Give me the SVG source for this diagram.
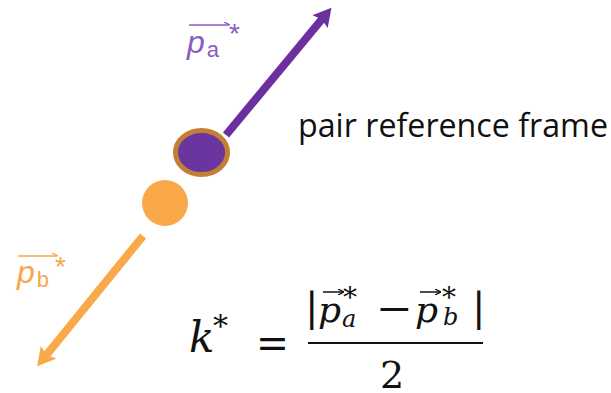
<svg xmlns="http://www.w3.org/2000/svg" width="611" height="393" viewBox="0 0 611 393">
  <style>
    .sans { font-family: "Liberation Sans", Arial, sans-serif; }
    .calib { font-family: "Open Sans", "Liberation Sans", sans-serif; fill: #111; }
    .math { font-family: "DejaVu Serif", "Liberation Serif", serif; fill: #111; }
    .it { font-style: italic; }
    .purpleLbl { fill: #8B5CBF; }
    .orangeLbl { fill: #F7A64A; }
  </style>
  <defs>
    <marker id="headPurple" viewBox="0 -10 18 20" markerUnits="userSpaceOnUse" markerWidth="18" markerHeight="20" refX="4" refY="0" orient="auto">
      <path d="M0,-10 L18,0 L0,10 L3,0 z" fill="#6B2FA0"/>
    </marker>
    <marker id="headOrange" viewBox="0 -10 18 20" markerUnits="userSpaceOnUse" markerWidth="18" markerHeight="20" refX="4" refY="0" orient="auto">
      <path d="M0,-10 L18,0 L0,10 L3,0 z" fill="#F9A84A"/>
    </marker>
    <marker id="vecPurple" viewBox="0 -3 6 6" markerUnits="userSpaceOnUse" markerWidth="6" markerHeight="6" refX="5" refY="0" orient="auto">
      <path d="M0,-3 L6,0" stroke="#8B5CBF" stroke-width="1.3" fill="none"/>
    </marker>
    <marker id="vecOrange" viewBox="0 -3 6 6" markerUnits="userSpaceOnUse" markerWidth="6" markerHeight="6" refX="5" refY="0" orient="auto">
      <path d="M0,-3 L6,0" stroke="#F7A64A" stroke-width="1.3" fill="none"/>
    </marker>
    <marker id="vecBlack" viewBox="0 -3 6 6" markerUnits="userSpaceOnUse" markerWidth="6" markerHeight="6" refX="5" refY="0" orient="auto">
      <path d="M0,-3 L6,0 L0,3" stroke="#111" stroke-width="1.3" fill="none"/>
    </marker>
  </defs>
  <rect width="611" height="393" fill="#ffffff"/>

  <g id="connectors">
    <line x1="226" y1="135" x2="322.5" y2="18.5" stroke="#6B2FA0" stroke-width="8" marker-end="url(#headPurple)"/>
    <line x1="143" y1="236" x2="46" y2="355.5" stroke="#F9A84A" stroke-width="8" marker-end="url(#headOrange)"/>
  </g>

  <g id="particle-a">
    <ellipse cx="201.5" cy="152.5" rx="26" ry="22" fill="#6B35A0" stroke="#C47F35" stroke-width="5"/>
  </g>

  <g id="particle-b">
    <circle cx="165" cy="203" r="23" fill="#F9A84A"/>
  </g>

  <g id="label-pa">
    <line x1="189" y1="25" x2="229" y2="25" stroke="#8B5CBF" stroke-width="1.5" marker-end="url(#vecPurple)"/>
    <text class="sans purpleLbl" x="187" y="53" font-size="32"><tspan class="it">p</tspan><tspan font-size="22" dx="2" dy="4">a</tspan></text>
    <text class="sans purpleLbl" x="229" y="43" font-size="28">*</text>
  </g>

  <g id="label-pb">
    <line x1="18" y1="256" x2="57" y2="256" stroke="#F7A64A" stroke-width="1.5" marker-end="url(#vecOrange)"/>
    <text class="sans orangeLbl" x="17" y="283" font-size="32"><tspan class="it">p</tspan><tspan font-size="22" dx="2" dy="4">b</tspan></text>
    <text class="sans orangeLbl" x="55" y="276" font-size="28">*</text>
  </g>

  <g id="label-frame">
    <text class="calib" x="298" y="137" font-size="32" textLength="310" lengthAdjust="spacingAndGlyphs">pair reference frame</text>
  </g>

  <g id="formula">
    <text class="math it" x="189" y="352" font-size="42">k</text>
    <text class="math" x="213" y="336" font-size="30">*</text>
    <text class="math" x="256" y="358" font-size="42" textLength="33" lengthAdjust="spacingAndGlyphs">=</text>
    <rect x="308" y="342" width="175" height="2" fill="#111"/>
    <text class="math" x="305" y="321" font-size="40">|</text>
    <text class="math it" x="318" y="322" font-size="36">p</text>
    <line x1="323" y1="292" x2="343" y2="292" stroke="#111" stroke-width="1.5" marker-end="url(#vecBlack)"/>
    <text class="math" x="343" y="307" font-size="28">*</text>
    <text class="math it" x="342" y="327" font-size="24">a</text>
    <text class="math" x="376" y="322" font-size="40" textLength="37" lengthAdjust="spacingAndGlyphs">−</text>
    <text class="math it" x="415" y="322" font-size="36">p</text>
    <line x1="420" y1="292" x2="440" y2="292" stroke="#111" stroke-width="1.5" marker-end="url(#vecBlack)"/>
    <text class="math" x="442" y="307" font-size="28">*</text>
    <text class="math it" x="443" y="325" font-size="24">b</text>
    <text class="math" x="472" y="321" font-size="40">|</text>
    <text class="math" x="380" y="388" font-size="38">2</text>
  </g>
</svg>
